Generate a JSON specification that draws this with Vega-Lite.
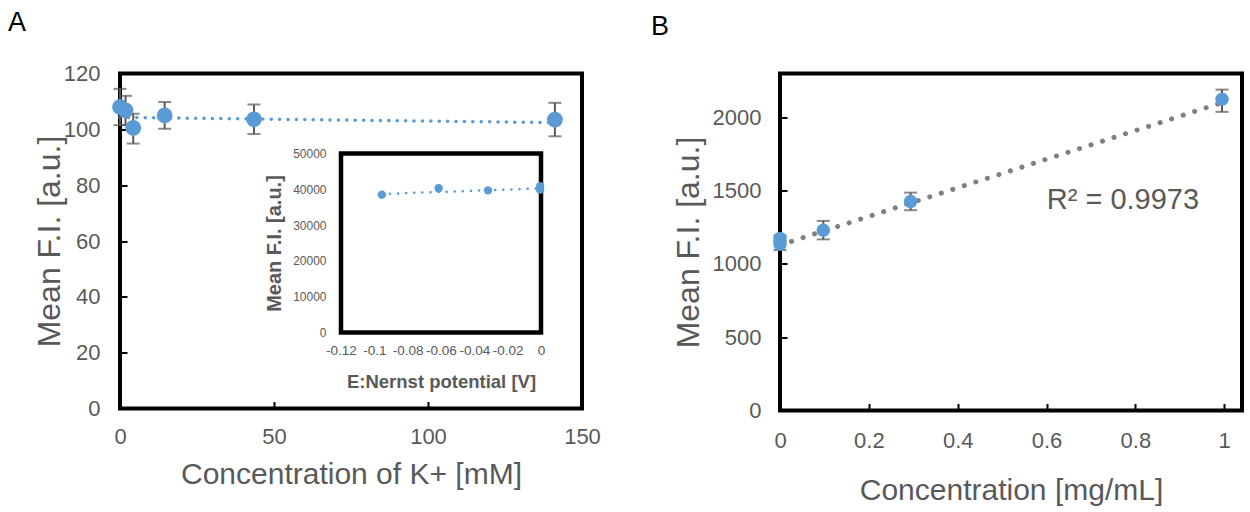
{
  "$schema": "https://vega.github.io/schema/vega-lite/v6.json",
  "padding": {"left": 6, "top": 6.5, "right": 0, "bottom": 0},
  "background": "white",
  "config": {
    "font": "Liberation Sans",
    "view": {"stroke": "black", "strokeWidth": 4},
    "axis": {"grid": false, "domain": false, "labelColor": "#595959", "titleColor": "#595959", "titleFontWeight": "normal", "tickColor": "black", "tickWidth": 2, "labelFont": "Liberation Sans", "titleFont": "Liberation Sans", "labelFlush": false, "labelOverlap": false},
    "title": {"font": "Liberation Sans", "fontWeight": "normal", "color": "black", "fontSize": 27, "anchor": "start", "frame": "group"}
  },
  "datasets": {
    "ptsA": [
      {"k": 0, "fi": 108.0, "lo": 101.5, "hi": 114.5},
      {"k": 1.8, "fi": 106.8, "lo": 101.5, "hi": 112.0},
      {"k": 4.3, "fi": 100.5, "lo": 94.9, "hi": 105.6},
      {"k": 14.5, "fi": 105.0, "lo": 100.2, "hi": 109.8},
      {"k": 43.5, "fi": 103.6, "lo": 98.3, "hi": 108.9},
      {"k": 141.2, "fi": 103.5, "lo": 97.5, "hi": 109.5}
    ],
    "trendA": [
      {"k": 0, "fi": 104.3},
      {"k": 141.2, "fi": 102.4}
    ],
    "inset": [
      {"e": -0.0955, "fi": 38500},
      {"e": -0.0614, "fi": 40300},
      {"e": -0.0318, "fi": 39700},
      {"e": -0.0005, "fi": 40900},
      {"e": -0.0005, "fi": 39900}
    ],
    "insetTrend": [
      {"e": -0.0955, "fi": 38700},
      {"e": 0, "fi": 40250}
    ],
    "insetFrame": [
      {"e": -0.12, "e2": 0, "fi": 0, "fi2": 50000}
    ],
    "ptsB": [
      {"c": 0, "fi": 1175, "lo": 1155, "hi": 1195},
      {"c": 0, "fi": 1135, "lo": 1095, "hi": 1155},
      {"c": 0.0975, "fi": 1231, "lo": 1168, "hi": 1294},
      {"c": 0.294, "fi": 1427, "lo": 1367, "hi": 1487},
      {"c": 0.995, "fi": 2124, "lo": 2038, "hi": 2190}
    ],
    "trendB": [
      {"c": 0, "fi": 1129},
      {"c": 0.995, "fi": 2101}
    ],
    "r2": [
      {"c": 0.772, "fi": 1436, "label": "R² = 0.9973"}
    ]
  },
  "bounds": "flush",
  "spacing": 198,
  "hconcat": [
    {
      "width": 462,
      "height": 335,
      "title": {"text": "A", "dx": -112, "offset": 26},
      "layer": [
        {
          "layer": [
            {
              "data": {"name": "trendA"},
              "mark": {"type": "line", "color": "#5B9BD5", "strokeWidth": 3.5, "strokeDash": [0.1, 8.3], "strokeCap": "round"},
              "encoding": {
                "x": {"field": "k", "type": "quantitative", "scale": {"domain": [0, 150]}, "axis": {"orient": "bottom", "values": [0, 50, 100, 150], "title": "Concentration of K+ [mM]", "labelFontSize": 22, "titleFontSize": 30, "tickSize": -7, "labelPadding": 25, "titlePadding": 12}},
                "y": {"field": "fi", "type": "quantitative", "scale": {"domain": [0, 120]}, "axis": {"orient": "left", "values": [0, 20, 40, 60, 80, 100, 120], "title": "Mean F.I. [a.u.]", "labelFontSize": 22, "titleFontSize": 32, "tickSize": -7, "labelPadding": 27, "titlePadding": -3}}
              }
            },
            {
              "data": {"name": "ptsA"},
              "mark": {"type": "rule", "color": "#595959", "strokeWidth": 2},
              "encoding": {
                "x": {"field": "k", "type": "quantitative", "scale": {"domain": [0, 150]}, "axis": {"orient": "bottom", "values": [0, 50, 100, 150], "title": "Concentration of K+ [mM]", "labelFontSize": 22, "titleFontSize": 30, "tickSize": -7, "labelPadding": 25, "titlePadding": 12}},
                "y": {"field": "lo", "type": "quantitative", "scale": {"domain": [0, 120]}, "axis": {"orient": "left", "values": [0, 20, 40, 60, 80, 100, 120], "title": "Mean F.I. [a.u.]", "labelFontSize": 22, "titleFontSize": 32, "tickSize": -7, "labelPadding": 27, "titlePadding": -3}},
                "y2": {"field": "hi"}
              }
            },
            {
              "data": {"name": "ptsA"},
              "mark": {"type": "tick", "orient": "horizontal", "color": "#595959", "thickness": 2, "size": 13},
              "encoding": {
                "x": {"field": "k", "type": "quantitative", "scale": {"domain": [0, 150]}, "axis": {"orient": "bottom", "values": [0, 50, 100, 150], "title": "Concentration of K+ [mM]", "labelFontSize": 22, "titleFontSize": 30, "tickSize": -7, "labelPadding": 25, "titlePadding": 12}},
                "y": {"field": "lo", "type": "quantitative", "scale": {"domain": [0, 120]}, "axis": {"orient": "left", "values": [0, 20, 40, 60, 80, 100, 120], "title": "Mean F.I. [a.u.]", "labelFontSize": 22, "titleFontSize": 32, "tickSize": -7, "labelPadding": 27, "titlePadding": -3}}
              }
            },
            {
              "data": {"name": "ptsA"},
              "mark": {"type": "tick", "orient": "horizontal", "color": "#595959", "thickness": 2, "size": 13},
              "encoding": {
                "x": {"field": "k", "type": "quantitative", "scale": {"domain": [0, 150]}, "axis": {"orient": "bottom", "values": [0, 50, 100, 150], "title": "Concentration of K+ [mM]", "labelFontSize": 22, "titleFontSize": 30, "tickSize": -7, "labelPadding": 25, "titlePadding": 12}},
                "y": {"field": "hi", "type": "quantitative", "scale": {"domain": [0, 120]}, "axis": {"orient": "left", "values": [0, 20, 40, 60, 80, 100, 120], "title": "Mean F.I. [a.u.]", "labelFontSize": 22, "titleFontSize": 32, "tickSize": -7, "labelPadding": 27, "titlePadding": -3}}
              }
            },
            {
              "data": {"name": "ptsA"},
              "mark": {"type": "circle", "color": "#5B9BD5", "opacity": 1, "size": 250},
              "encoding": {
                "x": {"field": "k", "type": "quantitative", "scale": {"domain": [0, 150]}, "axis": {"orient": "bottom", "values": [0, 50, 100, 150], "title": "Concentration of K+ [mM]", "labelFontSize": 22, "titleFontSize": 30, "tickSize": -7, "labelPadding": 25, "titlePadding": 12}},
                "y": {"field": "fi", "type": "quantitative", "scale": {"domain": [0, 120]}, "axis": {"orient": "left", "values": [0, 20, 40, 60, 80, 100, 120], "title": "Mean F.I. [a.u.]", "labelFontSize": 22, "titleFontSize": 32, "tickSize": -7, "labelPadding": 27, "titlePadding": -3}}
              }
            }
          ]
        },
        {
          "layer": [
            {
              "data": {"name": "insetFrame"},
              "mark": {"type": "rect", "fill": "white", "stroke": "black", "strokeWidth": 4.5},
              "encoding": {
                "x": {"field": "e", "type": "quantitative", "scale": {"domain": [-0.12, 0], "range": [221, 421]}, "axis": {"orient": "bottom", "offset": -77, "values": [-0.12, -0.1, -0.08, -0.06, -0.04, -0.02, 0], "labelExpr": "datum.value + ''", "title": "E:Nernst potential [V]", "titleFontWeight": "bold", "titleFontSize": 18.5, "labelFontSize": 13.5, "tickSize": -4, "labelPadding": 16, "titlePadding": 15}},
                "x2": {"field": "e2"},
                "y": {"field": "fi", "type": "quantitative", "scale": {"domain": [0, 50000], "range": [259, 80]}, "axis": {"orient": "left", "offset": -221, "values": [0, 10000, 20000, 30000, 40000, 50000], "format": "d", "title": "Mean F.I. [a.u.]", "titleFontWeight": "bold", "titleFontSize": 20, "labelFontSize": 12, "tickSize": -4, "labelPadding": 19, "titlePadding": 8}},
                "y2": {"field": "fi2"}
              }
            },
            {
              "data": {"name": "insetTrend"},
              "mark": {"type": "line", "color": "#5B9BD5", "strokeWidth": 2.5, "strokeDash": [0.1, 8], "strokeCap": "round"},
              "encoding": {
                "x": {"field": "e", "type": "quantitative", "scale": {"domain": [-0.12, 0], "range": [221, 421]}, "axis": {"orient": "bottom", "offset": -77, "values": [-0.12, -0.1, -0.08, -0.06, -0.04, -0.02, 0], "labelExpr": "datum.value + ''", "title": "E:Nernst potential [V]", "titleFontWeight": "bold", "titleFontSize": 18.5, "labelFontSize": 13.5, "tickSize": -4, "labelPadding": 16, "titlePadding": 15}},
                "y": {"field": "fi", "type": "quantitative", "scale": {"domain": [0, 50000], "range": [259, 80]}, "axis": {"orient": "left", "offset": -221, "values": [0, 10000, 20000, 30000, 40000, 50000], "format": "d", "title": "Mean F.I. [a.u.]", "titleFontWeight": "bold", "titleFontSize": 20, "labelFontSize": 12, "tickSize": -4, "labelPadding": 19, "titlePadding": 8}}
              }
            },
            {
              "data": {"name": "inset"},
              "mark": {"type": "circle", "color": "#5B9BD5", "opacity": 1, "size": 70},
              "encoding": {
                "x": {"field": "e", "type": "quantitative", "scale": {"domain": [-0.12, 0], "range": [221, 421]}, "axis": {"orient": "bottom", "offset": -77, "values": [-0.12, -0.1, -0.08, -0.06, -0.04, -0.02, 0], "labelExpr": "datum.value + ''", "title": "E:Nernst potential [V]", "titleFontWeight": "bold", "titleFontSize": 18.5, "labelFontSize": 13.5, "tickSize": -4, "labelPadding": 16, "titlePadding": 15}},
                "y": {"field": "fi", "type": "quantitative", "scale": {"domain": [0, 50000], "range": [259, 80]}, "axis": {"orient": "left", "offset": -221, "values": [0, 10000, 20000, 30000, 40000, 50000], "format": "d", "title": "Mean F.I. [a.u.]", "titleFontWeight": "bold", "titleFontSize": 20, "labelFontSize": 12, "tickSize": -4, "labelPadding": 19, "titlePadding": 8}}
              }
            }
          ]
        }
      ],
      "resolve": {"scale": {"x": "independent", "y": "independent"}, "axis": {"x": "independent", "y": "independent"}}
    },
    {
      "width": 462,
      "height": 337,
      "title": {"text": "B", "dx": -129, "offset": 33},
      "layer": [
        {
          "data": {"name": "trendB"},
          "mark": {"type": "line", "color": "#7F7F7F", "strokeWidth": 5, "strokeDash": [0.1, 12], "strokeCap": "round"},
          "encoding": {
            "x": {"field": "c", "type": "quantitative", "scale": {"domain": [0, 1.04]}, "axis": {"orient": "bottom", "values": [0, 0.2, 0.4, 0.6, 0.8, 1], "format": "~g", "title": "Concentration [mg/mL]", "labelFontSize": 22, "titleFontSize": 30, "tickSize": -7, "labelPadding": 27, "titlePadding": 24}},
            "y": {"field": "fi", "type": "quantitative", "scale": {"domain": [0, 2300]}, "axis": {"orient": "left", "values": [0, 500, 1000, 1500, 2000], "format": "d", "title": "Mean F.I. [a.u.]", "labelFontSize": 22, "titleFontSize": 32, "tickSize": -7, "labelPadding": 26, "titlePadding": 7}}
          }
        },
        {
          "data": {"name": "ptsB"},
          "mark": {"type": "rule", "color": "#595959", "strokeWidth": 2},
          "encoding": {
            "x": {"field": "c", "type": "quantitative", "scale": {"domain": [0, 1.04]}, "axis": {"orient": "bottom", "values": [0, 0.2, 0.4, 0.6, 0.8, 1], "format": "~g", "title": "Concentration [mg/mL]", "labelFontSize": 22, "titleFontSize": 30, "tickSize": -7, "labelPadding": 27, "titlePadding": 24}},
            "y": {"field": "lo", "type": "quantitative", "scale": {"domain": [0, 2300]}, "axis": {"orient": "left", "values": [0, 500, 1000, 1500, 2000], "format": "d", "title": "Mean F.I. [a.u.]", "labelFontSize": 22, "titleFontSize": 32, "tickSize": -7, "labelPadding": 26, "titlePadding": 7}},
            "y2": {"field": "hi"}
          }
        },
        {
          "data": {"name": "ptsB"},
          "mark": {"type": "tick", "orient": "horizontal", "color": "#595959", "thickness": 2, "size": 13},
          "encoding": {
            "x": {"field": "c", "type": "quantitative", "scale": {"domain": [0, 1.04]}, "axis": {"orient": "bottom", "values": [0, 0.2, 0.4, 0.6, 0.8, 1], "format": "~g", "title": "Concentration [mg/mL]", "labelFontSize": 22, "titleFontSize": 30, "tickSize": -7, "labelPadding": 27, "titlePadding": 24}},
            "y": {"field": "lo", "type": "quantitative", "scale": {"domain": [0, 2300]}, "axis": {"orient": "left", "values": [0, 500, 1000, 1500, 2000], "format": "d", "title": "Mean F.I. [a.u.]", "labelFontSize": 22, "titleFontSize": 32, "tickSize": -7, "labelPadding": 26, "titlePadding": 7}}
          }
        },
        {
          "data": {"name": "ptsB"},
          "mark": {"type": "tick", "orient": "horizontal", "color": "#595959", "thickness": 2, "size": 13},
          "encoding": {
            "x": {"field": "c", "type": "quantitative", "scale": {"domain": [0, 1.04]}, "axis": {"orient": "bottom", "values": [0, 0.2, 0.4, 0.6, 0.8, 1], "format": "~g", "title": "Concentration [mg/mL]", "labelFontSize": 22, "titleFontSize": 30, "tickSize": -7, "labelPadding": 27, "titlePadding": 24}},
            "y": {"field": "hi", "type": "quantitative", "scale": {"domain": [0, 2300]}, "axis": {"orient": "left", "values": [0, 500, 1000, 1500, 2000], "format": "d", "title": "Mean F.I. [a.u.]", "labelFontSize": 22, "titleFontSize": 32, "tickSize": -7, "labelPadding": 26, "titlePadding": 7}}
          }
        },
        {
          "data": {"name": "ptsB"},
          "mark": {"type": "circle", "color": "#5B9BD5", "opacity": 1, "size": 180},
          "encoding": {
            "x": {"field": "c", "type": "quantitative", "scale": {"domain": [0, 1.04]}, "axis": {"orient": "bottom", "values": [0, 0.2, 0.4, 0.6, 0.8, 1], "format": "~g", "title": "Concentration [mg/mL]", "labelFontSize": 22, "titleFontSize": 30, "tickSize": -7, "labelPadding": 27, "titlePadding": 24}},
            "y": {"field": "fi", "type": "quantitative", "scale": {"domain": [0, 2300]}, "axis": {"orient": "left", "values": [0, 500, 1000, 1500, 2000], "format": "d", "title": "Mean F.I. [a.u.]", "labelFontSize": 22, "titleFontSize": 32, "tickSize": -7, "labelPadding": 26, "titlePadding": 7}}
          }
        },
        {
          "data": {"name": "r2"},
          "mark": {"type": "text", "color": "#595959", "fontSize": 29, "align": "center", "baseline": "middle"},
          "encoding": {
            "x": {"field": "c", "type": "quantitative", "scale": {"domain": [0, 1.04]}, "axis": {"orient": "bottom", "values": [0, 0.2, 0.4, 0.6, 0.8, 1], "format": "~g", "title": "Concentration [mg/mL]", "labelFontSize": 22, "titleFontSize": 30, "tickSize": -7, "labelPadding": 27, "titlePadding": 24}},
            "y": {"field": "fi", "type": "quantitative", "scale": {"domain": [0, 2300]}, "axis": {"orient": "left", "values": [0, 500, 1000, 1500, 2000], "format": "d", "title": "Mean F.I. [a.u.]", "labelFontSize": 22, "titleFontSize": 32, "tickSize": -7, "labelPadding": 26, "titlePadding": 7}},
            "text": {"field": "label"}
          }
        }
      ]
    }
  ]
}
